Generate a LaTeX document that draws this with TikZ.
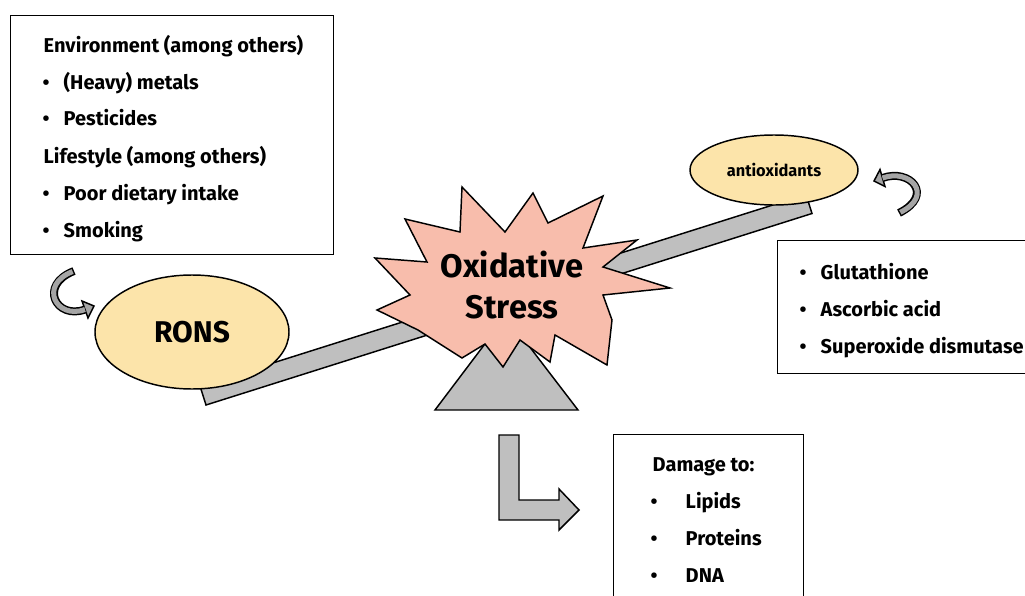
\documentclass[tikz,border=0pt]{standalone}
\usepackage{fontspec}
\setmainfont{Fira Sans}
\usetikzlibrary{shapes.geometric}

\definecolor{ronsyellow}{RGB}{252,228,170}
\definecolor{burstpink}{RGB}{248,189,172}
\definecolor{beamgray}{RGB}{191,191,191}
\definecolor{arrowgray}{RGB}{165,165,165}

\begin{document}
\begin{tikzpicture}[x=0.75pt,y=-0.75pt,line width=1.1pt,
    item/.style={anchor=base west,inner sep=0pt,font=\bfseries\fontsize{15}{17}\selectfont},
    dot/.style={anchor=base,inner sep=0pt,font=\bfseries\fontsize{15}{17}\selectfont},
    ball/.style={ellipse,draw,fill=ronsyellow,inner sep=0pt},
    listbox/.style={draw,fill=white,anchor=north west,inner sep=0pt}]
  \clip (0,0) rectangle (1025,596);

  % seesaw
  \filldraw[fill=beamgray] (200,386) -- (806,194.5) -- (812,213.5) -- (206,405) -- cycle;
  \filldraw[fill=beamgray] (435,410) -- (506,316) -- (578,410) -- cycle;

  % explosion
  \filldraw[fill=burstpink,line join=miter] (405,219) -- (460,232) -- (462,187) -- (505,232)
    -- (533,193) -- (548,223) -- (603,196) -- (583,248) -- (637,240) -- (603,267)
    -- (670,288) -- (603,295) -- (612,320) -- (607,365) -- (555,335) -- (550,362)
    -- (520,340) -- (503,367) -- (485,344) -- (462,358) -- (418,330) -- (377,310)
    -- (410,295) -- (375,258) -- (427,262) -- cycle;
  \node[anchor=base,inner sep=0pt,font=\bfseries\fontsize{24.5}{30}\selectfont] (ox) at (512,277) {Oxidative};
  \node[anchor=base,inner sep=0pt,font=\bfseries\fontsize{24.5}{30}\selectfont] (st) at (512,318) {Stress};

  % weights on the beam
  \node[ball,minimum width=145.5pt,minimum height=85.5pt,font=\bfseries\fontsize{22.5}{24}\selectfont] (rons) at (192,332) {RONS};
  \node[ball,minimum width=126pt,minimum height=52.5pt,font=\bfseries\fontsize{12.3}{14}\selectfont] (antiox) at (774,170) {antioxidants};

  % sources
  \node[listbox,minimum width=242.25pt,minimum height=179.25pt] (srcbox) at (10,15) {};
  \node[item] (env) at (43,52) {Environment (among others)};
  \node[dot] at (46,89) {•};
  \node[item] (metals) at (63,89) {(Heavy) metals};
  \node[dot] at (46,125) {•};
  \node[item] (pest) at (63,125) {Pesticides};
  \node[item] (life) at (43,163) {Lifestyle (among others)};
  \node[dot] at (46,200) {•};
  \node[item] (diet) at (63,200) {Poor dietary intake};
  \node[dot] at (46,237) {•};
  \node[item] (smoke) at (63,237) {Smoking};

  % antioxidant list
  \node[listbox,minimum width=195pt,minimum height=99.75pt] (antibox) at (777,240) {};
  \node[dot] at (803,279) {•};
  \node[item] (glu) at (820,279) {Glutathione};
  \node[dot] at (803,316) {•};
  \node[item] (asc) at (820,316) {Ascorbic acid};
  \node[dot] at (803,353) {•};
  \node[item] (sod) at (820,353) {Superoxide dismutase};

  % damage list
  \node[listbox,minimum width=142.5pt,minimum height=124.5pt] (dmgbox) at (613,434) {};
  \node[item] (dmg) at (652,471) {Damage to:};
  \node[dot] at (654,508) {•};
  \node[item] (lip) at (685,508) {Lipids};
  \node[dot] at (654,545) {•};
  \node[item] (prot) at (685,545) {Proteins};
  \node[dot] at (654,582) {•};
  \node[item] (dna) at (685,582) {DNA};

  % curved arrows
  \coordinate (ltail) at (74,271);
  \coordinate (lhead) at (85,309.5);
  \draw[line width=6pt] (ltail) .. controls (38,285) and (56,320) .. (lhead);
  \filldraw[fill=arrowgray,line join=miter] (82,301) -- (94,306) -- (88,318) -- cycle;
  \draw[arrowgray,line width=3.8pt,shorten <=1.1pt] (ltail) .. controls (38,285) and (56,320) .. (lhead);

  \coordinate (rtail) at (899,213);
  \coordinate (rhead) at (882.5,178);
  \draw[line width=6pt] (rtail) .. controls (935,195) and (910,168) .. (rhead);
  \filldraw[fill=arrowgray,line join=miter] (880,169.5) -- (874,181) -- (885,186.5) -- cycle;
  \draw[arrowgray,line width=3.8pt,shorten <=1.1pt] (rtail) .. controls (935,195) and (910,168) .. (rhead);

  % bent arrow
  \filldraw[fill=beamgray,line join=miter] (499,435) -- (519,435) -- (519,500) -- (559,500) -- (559,489)
    -- (579,510) -- (559,530) -- (559,520) -- (499,520) -- cycle;
\end{tikzpicture}
\end{document}
